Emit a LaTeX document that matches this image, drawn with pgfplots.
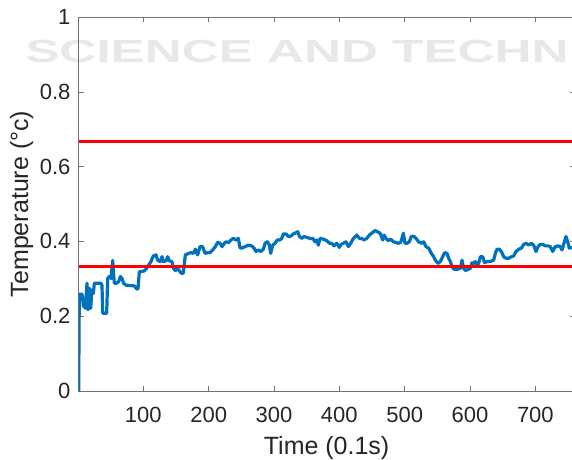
\documentclass[border=0pt]{standalone}
\usepackage{fontspec}
\setmainfont{Liberation Sans}
\usepackage{pgfplots}
\pgfplotsset{compat=1.18}
\definecolor{mblue}{rgb}{0,0.447,0.741}
\definecolor{axgray}{rgb}{0.15,0.15,0.15}
\definecolor{wmgray}{rgb}{0.91,0.91,0.91}
\begin{document}
\begin{tikzpicture}[x=1pt,y=1pt]
\node[anchor=base west, inner sep=0pt, text=wmgray, font=\fontsize{32}{32}\selectfont\bfseries, xscale=1.6] at (25,396) {SCIENCE AND TECHN};
\begin{axis}[
  at={(78.65pt,68pt)}, anchor=south west,
  scale only axis, width=495.9pt, height=374pt,
  xmin=1, xmax=760, ymin=0, ymax=1,
  xtick={100,200,...,700}, ytick={0,0.2,0.4,0.6,0.8,1},
  tick align=inside, major tick length=5pt,
  axis line style={black!55, line width=0.6pt},
  every tick/.style={black!55, line width=0.6pt},
  tick label style={font=\fontsize{22}{22}\selectfont, text=axgray},
  /pgf/number format/assume math mode=true,
  xticklabel style={inner sep=0pt, anchor=north, yshift=-15.7pt},
  yticklabel style={inner sep=0pt, anchor=east, xshift=-8pt},
  label style={font=\fontsize{25}{25}\selectfont, text=axgray},
  xlabel={Time (0.1s)},
  ylabel={Temperature (°c)},
  xlabel style={at={(axis description cs:0.5,0)}, anchor=base, yshift=-63.3pt, inner sep=0pt},
  ylabel style={at={(axis description cs:-0.1021,0.5)}, anchor=base, inner sep=0pt},
]
\addplot[mblue, line width=3.2pt, line join=round, mark=none] coordinates {
(1,0)(2,0.259)(6.1,0.259)(7.1,0.248)(8.2,0.226)(9.7,0.248)(11.2,0.221)(13.8,0.288)(15.3,0.217)(17.3,0.275)(19.4,0.221)(21.4,0.270)(23.5,0.261)(25.0,0.288)(35.2,0.288)(36.7,0.283)(37.8,0.208)(43.9,0.208)(45.4,0.301)(48.0,0.306)(50.5,0.301)(53.1,0.349)(55.6,0.288)(58.2,0.288)(62.2,0.292)(64.8,0.306)(67.3,0.301)(69.9,0.288)(73.5,0.283)(86.2,0.281)(89.8,0.273)(91.8,0.273)(93.9,0.319)(101.5,0.321)(105.1,0.328)(108.2,0.337)(111.7,0.346)(115.3,0.361)(119.4,0.364)(121.9,0.350)(125.5,0.346)(128.6,0.359)(130.6,0.346)(134.7,0.348)(137.2,0.359)(139.8,0.348)(143.9,0.346)(145.9,0.328)(149.0,0.322)(152.6,0.328)(155.1,0.321)(158.2,0.315)(161.2,0.315)(164.3,0.364)(169.4,0.368)(173.0,0.370)(176.5,0.368)(179.6,0.379)(183.2,0.364)(186.7,0.386)(190.8,0.386)(194.4,0.368)(198.5,0.370)(202.0,0.370)(206.1,0.377)(210.2,0.386)(213.8,0.398)(217.3,0.395)(220.4,0.386)(224.0,0.395)(226.5,0.399)(230.6,0.397)(234.2,0.404)(237.8,0.408)(241.8,0.404)(245.4,0.408)(248.0,0.383)(250.6,0.382)(255.7,0.386)(260.8,0.390)(265.9,0.388)(269.4,0.382)(272.5,0.373)(276.1,0.377)(279.6,0.373)(283.7,0.379)(286.3,0.395)(289.8,0.399)(292.9,0.390)(294.9,0.368)(298.0,0.390)(301.6,0.395)(305.1,0.404)(309.2,0.404)(311.8,0.408)(314.3,0.420)(318.4,0.420)(322.0,0.413)(325.6,0.414)(329.6,0.420)(333.7,0.423)(336.3,0.426)(338.8,0.414)(342.4,0.408)(346.0,0.413)(350.0,0.411)(355.1,0.408)(359.2,0.408)(362.8,0.399)(365.3,0.404)(367.9,0.390)(370.4,0.408)(375.6,0.406)(380.7,0.402)(384.7,0.395)(388.3,0.395)(391.9,0.388)(396.0,0.395)(400.0,0.384)(402.6,0.392)(406.2,0.395)(410.2,0.399)(413.8,0.386)(417.4,0.395)(421.5,0.408)(426.6,0.417)(430.7,0.408)(434.2,0.408)(437.8,0.404)(441.9,0.408)(446.0,0.417)(449.5,0.422)(454.6,0.429)(458.2,0.426)(462.3,0.422)(466.4,0.404)(468.4,0.417)(471.5,0.408)(475.0,0.402)(478.6,0.406)(482.7,0.399)(486.8,0.397)(490.3,0.395)(493.9,0.397)(498.0,0.422)(500.5,0.395)(503.6,0.395)(507.1,0.399)(510.2,0.413)(513.8,0.414)(517.3,0.408)(521.4,0.399)(525.5,0.395)(529.1,0.399)(532.6,0.386)(536.7,0.382)(540.8,0.368)(544.4,0.359)(546.9,0.350)(551.0,0.341)(554.6,0.346)(558.1,0.359)(561.2,0.370)(564.8,0.368)(567.3,0.355)(569.9,0.346)(572.4,0.333)(575.0,0.326)(580.1,0.325)(585.2,0.328)(587.7,0.350)(590.3,0.328)(592.8,0.322)(596.9,0.325)(600.5,0.328)(603.0,0.343)(605.6,0.341)(608.1,0.346)(610.7,0.337)(613.2,0.341)(615.8,0.359)(619.4,0.359)(622.4,0.343)(626.0,0.346)(629.6,0.346)(633.7,0.348)(636.2,0.350)(638.8,0.368)(641.3,0.379)(644.9,0.379)(648.0,0.373)(651.5,0.359)(655.1,0.355)(659.2,0.355)(663.2,0.359)(666.8,0.361)(670.4,0.373)(674.5,0.379)(678.6,0.382)(682.1,0.392)(685.7,0.395)(689.8,0.390)(693.9,0.395)(697.4,0.390)(701.0,0.373)(704.1,0.386)(707.6,0.392)(711.2,0.392)(715.3,0.388)(719.4,0.388)(722.9,0.386)(726.5,0.373)(730.6,0.386)(734.7,0.388)(738.2,0.386)(740.8,0.377)(744.4,0.399)(746.9,0.413)(749.5,0.399)(752.0,0.382)(756.1,0.384)(760,0.384)
};
\addplot[red, line width=2.8pt, mark=none] coordinates {(1,0.6667)(760,0.6667)};
\addplot[red, line width=2.8pt, mark=none] coordinates {(1,0.3333)(760,0.3333)};
\end{axis}
\pgfresetboundingbox
\useasboundingbox (0,0) rectangle (572,459);
\end{tikzpicture}
\end{document}
